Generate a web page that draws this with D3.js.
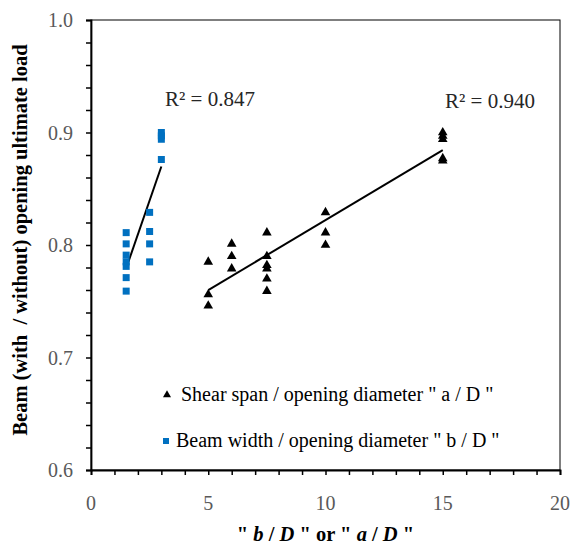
<!DOCTYPE html>
<html>
<head>
<meta charset="utf-8">
<script src="https://cdn.jsdelivr.net/npm/d3@7"></script>
<style>
  html, body { margin: 0; padding: 0; background: #fff; }
  svg { display: block; font-family: "Liberation Serif", "Times New Roman", serif; }
</style>
</head>
<body>
<div id="chart"></div>
<script>
// shear span / opening diameter "a / D" (triangles)
var shearX = [5, 5, 5, 6, 6, 6, 7.5, 7.5, 7.5, 7.5, 7.5, 7.5, 10, 10, 10, 15, 15, 15, 15, 15];
var shearY = [0.785, 0.756, 0.746, 0.801, 0.790, 0.779, 0.811, 0.790, 0.782, 0.779, 0.770, 0.759,
              0.829, 0.811, 0.800, 0.900, 0.897, 0.894, 0.877, 0.875];

// beam width / opening diameter "b / D" (squares)
var widthX = [1.5, 1.5, 1.5, 1.5, 1.5, 1.5, 1.5, 2.5, 2.5, 2.5, 2.5, 3, 3, 3, 3];
var widthY = [0.811, 0.801, 0.791, 0.785, 0.781, 0.771, 0.759, 0.829, 0.812, 0.801, 0.785,
              0.900, 0.897, 0.894, 0.876];

var r2Labels = ["R\u00b2 = 0.847", "R\u00b2 = 0.940"];
var legendLabels = ["Shear span / opening diameter \" a / D \"", "Beam width / opening diameter \" b / D \""];
var xTickValues = [0, 5, 10, 15, 20];
var yTickValues = [0.6, 0.7, 0.8, 0.9, 1.0];

var width = 573, height = 545;
var margin = {top: 20, right: 13, bottom: 75, left: 91};

var svg = d3.select("#chart").append("svg")
  .attr("width", width)
  .attr("height", height);

var x = d3.scaleLinear().domain([0, 20]).range([margin.left, width - margin.right]);
var y = d3.scaleLinear().domain([0.6, 1.0]).range([height - margin.bottom, margin.top]);

// plot frame
svg.append("rect")
  .attr("x", x(0)).attr("y", y(1.0))
  .attr("width", x(20) - x(0)).attr("height", y(0.6) - y(1.0))
  .attr("fill", "none").attr("stroke", "#000").attr("stroke-width", 1);

// axes, minor ticks every 0.02 and every 1
var yAxis = svg.append("g")
  .attr("transform", "translate(" + x(0) + ",0)")
  .call(d3.axisLeft(y).tickValues(d3.range(0.6, 1.0001, 0.02)).tickSize(5).tickFormat(""));
var xAxis = svg.append("g")
  .attr("transform", "translate(0," + y(0.6) + ")")
  .call(d3.axisBottom(x).tickValues(d3.range(0, 21, 1)).tickSize(5).tickFormat(""));

[yAxis, xAxis].forEach(function(a) {
  a.select(".domain").attr("stroke", "#000").attr("stroke-width", 1.8);
  a.selectAll(".tick line").attr("stroke", "#000").attr("stroke-width", 1.5);
});

// tick labels
svg.selectAll(".ylab").data(yTickValues).enter().append("text")
  .attr("x", x(0) - 18)
  .attr("y", function(d) { return y(d); })
  .attr("dy", "0.35em")
  .attr("text-anchor", "end")
  .style("font-size", "20px")
  .style("fill", "#595959")
  .text(function(d) { return d3.format(".1f")(d); });

svg.selectAll(".xlab").data(xTickValues).enter().append("text")
  .attr("x", function(d) { return x(d); })
  .attr("y", y(0.6) + 40)
  .attr("text-anchor", "middle")
  .style("font-size", "20px")
  .style("fill", "#595959")
  .text(function(d) { return d; });

// axis titles
svg.append("text")
  .attr("transform", "translate(27,240) rotate(-90)")
  .attr("text-anchor", "middle")
  .attr("xml:space", "preserve")
  .style("font-size", "20.5px")
  .style("font-weight", "bold")
  .text("Beam (with  / without) opening ultimate load");

var xt = svg.append("text")
  .attr("x", (x(0) + x(20)) / 2)
  .attr("y", 541)
  .attr("text-anchor", "middle")
  .attr("xml:space", "preserve")
  .style("font-size", "20.5px")
  .style("font-weight", "bold");
[["\" ", false], ["b", true], [" / ", false], ["D", true], [" \" or \" ", false],
 ["a", true], [" / ", false], ["D", true], [" \"", false]].forEach(function(p) {
  xt.append("tspan").style("font-style", p[1] ? "italic" : "normal").text(p[0]);
});

// least squares trend line
function fit(xs, ys) {
  var mx = d3.mean(xs), my = d3.mean(ys);
  var sxy = d3.sum(xs, function(v, i) { return (v - mx) * (ys[i] - my); });
  var sxx = d3.sum(xs, function(v) { return (v - mx) * (v - mx); });
  var b = sxy / sxx;
  return function(v) { return my + b * (v - mx); };
}

var line = d3.line().x(function(d) { return x(d); });

var fw = fit(widthX, widthY);
svg.append("path")
  .datum(d3.extent(widthX))
  .attr("d", line.y(function(d) { return y(fw(d)); }))
  .attr("fill", "none").attr("stroke", "#000").attr("stroke-width", 2);

var fs = fit(shearX, shearY);
svg.append("path")
  .datum(d3.extent(shearX))
  .attr("d", line.y(function(d) { return y(fs(d)); }))
  .attr("fill", "none").attr("stroke", "#000").attr("stroke-width", 2);

// markers
var tri = d3.symbol().type(d3.symbolTriangle).size(40);
svg.selectAll(".tri").data(shearX).enter().append("path")
  .attr("d", tri)
  .attr("transform", function(d, i) { return "translate(" + x(d) + "," + y(shearY[i]) + ")"; })
  .attr("fill", "#000");

svg.selectAll(".sq").data(widthX).enter().append("rect")
  .attr("x", function(d) { return x(d) - 3.5; })
  .attr("y", function(d, i) { return y(widthY[i]) - 3.5; })
  .attr("width", 7).attr("height", 7)
  .attr("fill", "#0070C0");

// R² labels
svg.append("text").attr("x", 165).attr("y", 106)
  .style("font-size", "21px").style("fill", "#262626").text(r2Labels[0]);
svg.append("text").attr("x", 445).attr("y", 108)
  .style("font-size", "21px").style("fill", "#262626").text(r2Labels[1]);

// legend
svg.append("path")
  .attr("d", d3.symbol().type(d3.symbolTriangle).size(28))
  .attr("transform", "translate(167,395)")
  .attr("fill", "#000");
svg.append("text").attr("x", 181).attr("y", 401)
  .style("font-size", "20px").style("fill", "#000").text(legendLabels[0]);

svg.append("rect").attr("x", 163).attr("y", 438).attr("width", 6).attr("height", 6)
  .attr("fill", "#0070C0");
svg.append("text").attr("x", 176).attr("y", 447)
  .style("font-size", "20px").style("fill", "#000").text(legendLabels[1]);
</script>
</body>
</html>
